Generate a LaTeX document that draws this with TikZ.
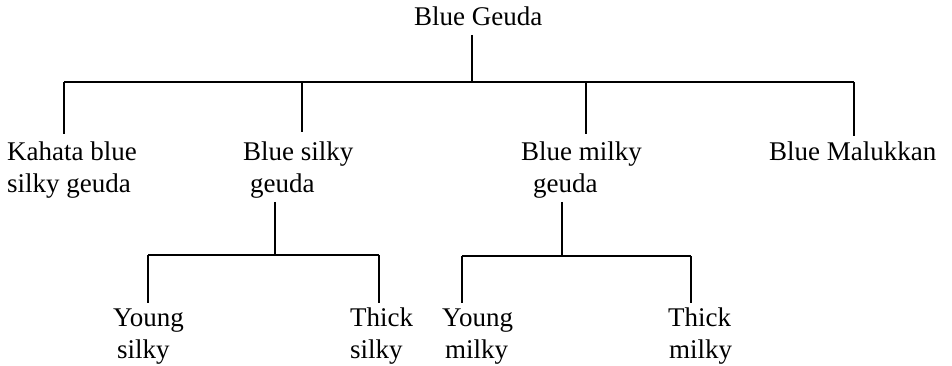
\documentclass[tikz,border=0pt]{standalone}
\usepackage{fontspec}
\setmainfont{Liberation Serif}
\begin{document}
\begin{tikzpicture}[x=1pt,y=-1pt,
  lbl/.style={inner sep=0pt,anchor=base west,font=\fontsize{27}{32}\selectfont},
  link/.style={line width=2pt,line cap=butt}]
\useasboundingbox (0,0) rectangle (952,365);
\newcommand{\twolines}[2]{\begin{tabular}[t]{@{}l@{}}#1\\#2\end{tabular}}
\newcommand{\oneline}[1]{\begin{tabular}[t]{@{}l@{}}#1\end{tabular}}

% labels
\node[lbl] (root)     at (414,25)  {\oneline{Blue Geuda}};
\node[lbl] (kahata)   at (7,160)   {\twolines{Kahata blue}{silky geuda}};
\node[lbl] (silky)    at (243,160) {\twolines{Blue silky}{\hspace*{7pt}geuda}};
\node[lbl] (milky)    at (521,160) {\twolines{Blue milky}{\hspace*{12pt}geuda}};
\node[lbl] (malukkan) at (769,160) {\oneline{Blue Malukkan}};
\node[lbl] (ysilky)   at (113,326) {\twolines{Young}{\hspace*{4pt}silky}};
\node[lbl] (tsilky)   at (350,326) {\twolines{Thick}{silky}};
\node[lbl] (ymilky)   at (442,326) {\twolines{Young}{\hspace*{3pt}milky}};
\node[lbl] (tmilky)   at (668,326) {\twolines{Thick}{\hspace*{1pt}milky}};

% junction points of the tree
\coordinate (r0) at (472,82);
\coordinate (b1) at (64,82);
\coordinate (b2) at (302,82);
\coordinate (b3) at (586,82);
\coordinate (b4) at (854,82);
\coordinate (s0) at (275,255);
\coordinate (s1) at (148,255);
\coordinate (s2) at (379,255);
\coordinate (m0) at (562,256);
\coordinate (m1) at (462,256);
\coordinate (m2) at (691,256);

% first level
\draw[link] (root.south -| r0) -- (r0);
\draw[link] (b1) -- (b4);
\draw[link,shorten >=3pt] (b1) -- (b1 |- kahata.north);
\draw[link,shorten >=5pt] (b2) -- (b2 |- silky.north);
\draw[link,shorten >=3pt] (b3) -- (b3 |- milky.north);
\draw[link,shorten >=1pt] (b4) -- (b4 |- malukkan.north);

% second level, silky branch
\draw[link] (silky.south -| s0) -- (s0);
\draw[link] (s1) -- (s2);
\draw[link] (s1) -- (s1 |- ysilky.north);
\draw[link] (s2) -- (s2 |- tsilky.north);

% second level, milky branch
\draw[link] (milky.south -| m0) -- (m0);
\draw[link] (m1) -- (m2);
\draw[link] (m1) -- (m1 |- ymilky.north);
\draw[link] (m2) -- (m2 |- tmilky.north);
\end{tikzpicture}
\end{document}
